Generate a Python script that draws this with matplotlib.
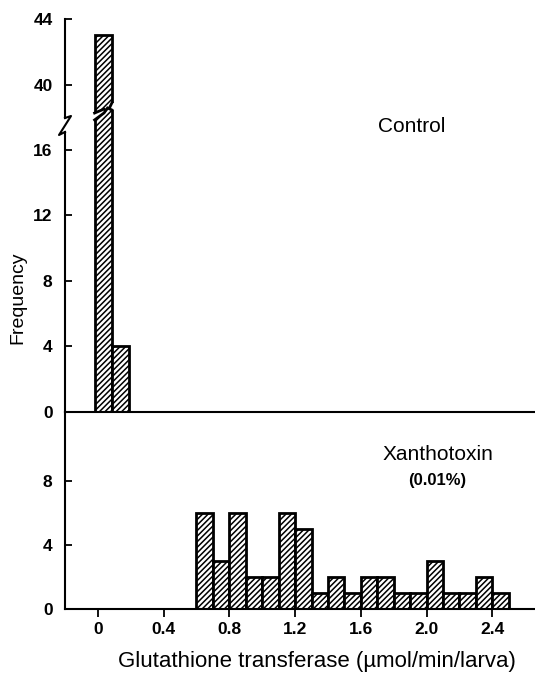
import matplotlib
matplotlib.use("Agg")
import matplotlib.pyplot as plt
from matplotlib.patches import Polygon

plt.rcParams["font.family"] = ["Liberation Sans", "DejaVu Sans"]
plt.rcParams["hatch.linewidth"] = 1.1
plt.rcParams["hatch.color"] = "black"

# ---- data -------------------------------------------------------------
control_left = [-0.02, 0.085]          # left bin edges (umol/min/larva)
control_width = 0.105
control_counts = [43, 4]

xanthotoxin_left = [0.6, 0.7, 0.8, 0.9, 1.0, 1.1, 1.2, 1.3, 1.4, 1.5,
                    1.6, 1.7, 1.8, 1.9, 2.0, 2.1, 2.2, 2.3, 2.4]
xanthotoxin_width = 0.1
xanthotoxin_counts = [6, 3, 6, 2, 2, 6, 5, 1, 2, 1,
                      2, 2, 1, 1, 3, 1, 1, 2, 1]

x_ticks = [0, 0.4, 0.8, 1.2, 1.6, 2.0, 2.4]
x_ticklabels = ["0", "0.4", "0.8", "1.2", "1.6", "2.0", "2.4"]
low_yticks = [0, 4, 8, 12, 16]
high_yticks = [40, 44]
treated_yticks = [0, 4, 8]

# ---- layout (pixel geometry of a 535 x 680 canvas) ---------------------
W, H = 535, 680
fig = plt.figure(figsize=(W / 100, H / 100), dpi=100)


def box(x0, top, x1, bottom):
    return [x0 / W, 1 - bottom / H, (x1 - x0) / W, (bottom - top) / H]


XL, XR = 65, 535
XLIM = (-0.2, 2.66)
TICKFS = 12.5

ax_hi = fig.add_axes(box(XL, 15, XR, 123))
ax_mid = fig.add_axes(box(XL, 100, XR, 412))
ax_bot = fig.add_axes(box(XL, 412, XR, 609))

ax_hi.set_ylim(37.70, 44.24)
ax_mid.set_ylim(0, 19.05)
ax_bot.set_ylim(0, 12.31)

LW = 1.5
for ax in (ax_hi, ax_mid, ax_bot):
    ax.set_xlim(*XLIM)
    ax.set_facecolor("none")
    for s in ("top", "right"):
        ax.spines[s].set_visible(False)
    ax.spines["left"].set_linewidth(LW)
    ax.spines["bottom"].set_linewidth(LW)
    ax.tick_params(axis="y", direction="in", length=5, width=1.3, pad=9)

ax_hi.spines["bottom"].set_visible(False)
ax_hi.set_xticks([])
ax_mid.set_xticks([])
ax_hi.spines["left"].set_bounds(38.0, 44)
ax_mid.spines["left"].set_bounds(0, 17.1)

ax_hi.set_yticks(high_yticks)
ax_mid.set_yticks(low_yticks)
ax_bot.set_yticks(treated_yticks)
for ax in (ax_hi, ax_mid, ax_bot):
    ax.set_yticklabels([str(t) for t in ax.get_yticks()], fontweight="bold",
                       fontsize=TICKFS)

ax_bot.set_xticks(x_ticks)
ax_bot.set_xticklabels(x_ticklabels, fontweight="bold", fontsize=TICKFS)
ax_bot.tick_params(axis="x", direction="out", length=6, width=1.3, pad=3)

bar_kw = dict(align="edge", color="white", edgecolor="black",
              linewidth=2.0, hatch="//////")

# ---- control histogram, tallest bin split across the break -------------
mid_bars = ax_mid.bar(control_left, control_counts, width=control_width,
                      **bar_kw)
hi_bars = ax_hi.bar(control_left[:1], control_counts[:1],
                    width=control_width, **bar_kw)

x0 = control_left[0]
x1 = control_left[0] + control_width
t_frac = [0.0, 0.55, 0.75, 1.0]
xs = [x0 + t * (x1 - x0) for t in t_frac]

# top edge of the lower piece (pixel rows -> data values)
low_px = [120, 113, 108, 110]
low_edge = [(412 - p) / 16.375 for p in low_px]
# bottom edge of the upper piece
up_px = [113, 109, 112, 103]
up_edge = [40 - (p - 85) / 16.5 for p in up_px]

pad = 0.05
clip_low = Polygon([(x0 - pad, -5), (x1 + pad, -5), (x1 + pad, low_edge[-1])]
                   + list(zip(xs, low_edge))[::-1]
                   + [(x0 - pad, low_edge[0])],
                   closed=True, transform=ax_mid.transData)
mid_bars[0].set_clip_path(clip_low)
ax_mid.plot(xs, low_edge, color="black", lw=2.0, clip_on=False,
            solid_joinstyle="miter")

clip_up = Polygon([(x0 - pad, 60), (x1 + pad, 60), (x1 + pad, up_edge[-1])]
                  + list(zip(xs, up_edge))[::-1]
                  + [(x0 - pad, up_edge[0])],
                  closed=True, transform=ax_hi.transData)
hi_bars[0].set_clip_path(clip_up)
ax_hi.plot(xs, up_edge, color="black", lw=2.0, clip_on=False,
           solid_joinstyle="miter")

# break mark on the frequency axis
brk_px = [(65, 118), (71, 116), (59, 135), (65, 132)]
fig.add_artist(plt.Line2D([p[0] / W for p in brk_px],
                          [1 - p[1] / H for p in brk_px],
                          color="black", lw=LW, transform=fig.transFigure))

# ---- xanthotoxin histogram ---------------------------------------------
ax_bot.bar(xanthotoxin_left, xanthotoxin_counts, width=xanthotoxin_width,
           **bar_kw)

# ---- labels ------------------------------------------------------------
fig.text(412 / W, 1 - 127 / H, "Control", ha="center", va="center",
         fontsize=15)
fig.text(438 / W, 1 - 455 / H, "Xanthotoxin", ha="center", va="center",
         fontsize=15)
fig.text(437 / W, 1 - 480 / H, "(0.01%)", ha="center", va="center",
         fontsize=12, fontweight="bold")
fig.text(317 / W, 1 - 662 / H, "Glutathione transferase (\u00b5mol/min/larva)",
         ha="center", va="center", fontsize=16)
fig.text(18 / W, 1 - 298 / H, "Frequency", ha="center", va="center",
         rotation=90, fontsize=14)

fig.savefig("out.png", dpi=100)
